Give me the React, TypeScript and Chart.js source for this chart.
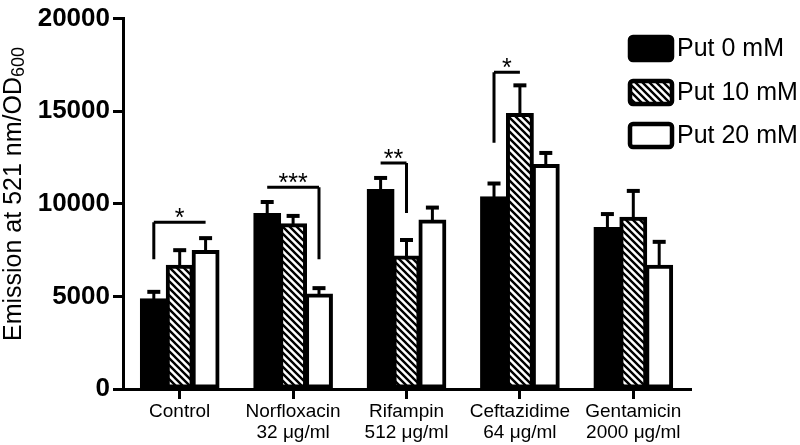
import React, { useEffect, useRef } from "react";
import { Chart, registerables } from "chart.js";

Chart.register(...registerables);

const categories: string[][] = [
  ["Control"],
  ["Norfloxacin", "32 μg/ml"],
  ["Rifampin", "512 μg/ml"],
  ["Ceftazidime", "64 μg/ml"],
  ["Gentamicin", "2000 μg/ml"],
];
const seriesNames = ["Put 0 mM", "Put 10 mM", "Put 20 mM"];
const put0 = [4850, 9450, 10750, 10350, 8700];
const put10 = [6650, 8900, 7150, 14850, 9250];
const put20 = [7450, 5100, 9100, 12100, 6650];
const err0 = [450, 700, 700, 800, 800];
const err10 = [900, 500, 950, 1600, 1500];
const err20 = [750, 400, 750, 700, 1350];
const yTicks = [0, 5000, 10000, 15000, 20000];

// significance brackets: category, from series, to series, bracket level, leg series, leg end, label
const brCat = [0, 1, 2, 3];
const brFrom = [0, 0, 0, 0];
const brTo = [2, 2, 1, 1];
const brLevel = [9000, 10900, 12200, 17100];
const brLegSeries = [0, 2, 1, 0];
const brLegEnd = [7000, 7000, 9500, 13300];
const brLabel = ["*", "***", "**", "*"];

const FONT = "'Liberation Sans', Arial, Helvetica, sans-serif";

function makeHatch(): CanvasPattern | string {
  const s = 7;
  const c = document.createElement("canvas");
  c.width = s;
  c.height = s;
  const g = c.getContext("2d");
  if (!g) return "#fff";
  g.fillStyle = "#fff";
  g.fillRect(0, 0, s, s);
  g.strokeStyle = "#000";
  g.lineWidth = 2.4;
  g.beginPath();
  for (const k of [-s, 0, s]) {
    g.moveTo(k - 1, -1);
    g.lineTo(k + s + 1, s + 1);
  }
  g.stroke();
  const p = g.createPattern(c, "repeat");
  return p || "#fff";
}

export default function App() {
  const ref = useRef<HTMLCanvasElement | null>(null);

  useEffect(() => {
    document.body.style.margin = "0";
    const canvas = ref.current;
    if (!canvas) return;
    const hatch = makeHatch();
    const errs = [err0, err10, err20];
    const fills: any[] = ["#000", hatch, "#fff"];

    const overlay = {
      id: "overlay",
      afterDatasetsDraw(chart: any) {
        const ctx = chart.ctx;
        const y = chart.scales.y;
        ctx.save();
        // error bars
        ctx.strokeStyle = "#000";
        ctx.fillStyle = "#000";
        for (let d = 0; d < 3; d++) {
          const meta = chart.getDatasetMeta(d);
          meta.data.forEach((bar: any, i: number) => {
            const v = chart.data.datasets[d].data[i] as number;
            const top = y.getPixelForValue(v + errs[d][i]);
            const base = y.getPixelForValue(v);
            ctx.lineWidth = 3;
            ctx.beginPath();
            ctx.moveTo(bar.x, base);
            ctx.lineTo(bar.x, top);
            ctx.stroke();
            ctx.lineWidth = 4;
            ctx.beginPath();
            ctx.moveTo(bar.x - 6.5, top + 1);
            ctx.lineTo(bar.x + 6.5, top + 1);
            ctx.stroke();
          });
        }
        // brackets
        ctx.lineWidth = 3;
        for (let b = 0; b < brCat.length; b++) {
          const x1 = chart.getDatasetMeta(brFrom[b]).data[brCat[b]].x;
          const x2 = chart.getDatasetMeta(brTo[b]).data[brCat[b]].x;
          const xl = chart.getDatasetMeta(brLegSeries[b]).data[brCat[b]].x;
          const yl = y.getPixelForValue(brLevel[b]);
          const ye = y.getPixelForValue(brLegEnd[b]);
          ctx.beginPath();
          ctx.moveTo(x1, yl);
          ctx.lineTo(x2, yl);
          ctx.moveTo(xl, yl);
          ctx.lineTo(xl, ye);
          ctx.stroke();
          ctx.font = `25px ${FONT}`;
          ctx.textAlign = "center";
          ctx.textBaseline = "alphabetic";
          ctx.fillText(brLabel[b], (x1 + x2) / 2, yl + 4);
        }
        // legend
        const lx = 628;
        const ly = [35, 79, 122];
        for (let k = 0; k < 3; k++) {
          const bx = lx, by = ly[k], bw = 46, bh = 27;
          ctx.beginPath();
          ctx.roundRect(bx + 2, by + 2, bw - 4, bh - 4, 3);
          ctx.fillStyle = fills[k];
          ctx.fill();
          ctx.lineWidth = 4.5;
          ctx.strokeStyle = "#000";
          ctx.stroke();
          ctx.fillStyle = "#000";
          ctx.font = `25px ${FONT}`;
          ctx.textAlign = "left";
          ctx.textBaseline = "middle";
          ctx.fillText(seriesNames[k], 677, by + bh / 2 + 1);
        }
        // y axis title with subscript
        ctx.save();
        ctx.translate(21, 194);
        ctx.rotate(-Math.PI / 2);
        const main = "Emission at 521 nm/OD";
        const sub = "600";
        ctx.font = `25px ${FONT}`;
        const w1 = ctx.measureText(main).width;
        ctx.font = `18px ${FONT}`;
        const w2 = ctx.measureText(sub).width;
        const start = -(w1 + w2) / 2;
        ctx.textAlign = "left";
        ctx.textBaseline = "alphabetic";
        ctx.font = `25px ${FONT}`;
        ctx.fillText(main, start, 0);
        ctx.font = `18px ${FONT}`;
        ctx.fillText(sub, start + w1, 3);
        ctx.restore();
        ctx.restore();
      },
    };

    const chart = new Chart(canvas, {
      type: "bar",
      data: {
        labels: categories as any,
        datasets: [
          { label: seriesNames[0], data: put0, backgroundColor: "#000", borderColor: "#000", borderWidth: 4, borderSkipped: false, inflateAmount: 1 },
          { label: seriesNames[1], data: put10, backgroundColor: hatch as any, borderColor: "#000", borderWidth: 4, borderSkipped: false, inflateAmount: 1 },
          { label: seriesNames[2], data: put20, backgroundColor: "#fff", borderColor: "#000", borderWidth: 4, borderSkipped: false, inflateAmount: 1 },
        ],
      },
      options: {
        responsive: false,
        animation: false,
        devicePixelRatio: 1,
        layout: { padding: { left: 0, top: 12, right: 110, bottom: 0 } },
        datasets: { bar: { categoryPercentage: 0.685, barPercentage: 1 } },
        plugins: { legend: { display: false }, tooltip: { enabled: false } },
        scales: {
          x: {
            grid: { display: true, drawOnChartArea: false, offset: false, tickLength: 10, lineWidth: 3, color: "#000" },
            border: { display: true, width: 3, color: "#000" },
            ticks: { color: "#000", font: { family: FONT, size: 19, lineHeight: 1.08 }, padding: 3, maxRotation: 0, autoSkip: false },
            afterFit: (s: any) => { s.height = 56; },
          },
          y: {
            min: 0,
            max: 20000,
            afterBuildTicks: (s: any) => { s.ticks = yTicks.map((v) => ({ value: v })); },
            grid: { display: true, drawOnChartArea: false, tickLength: 10, lineWidth: 3, color: "#000" },
            border: { display: true, width: 3, color: "#000" },
            ticks: {
              color: "#000",
              font: { family: FONT, size: 26, weight: "bold" },
              padding: 3,
              callback: (v: any) => String(v),
            },
            afterFit: (s: any) => { s.width = 123; },
          },
        },
      },
      plugins: [overlay],
    } as any);

    return () => chart.destroy();
  }, []);

  return (
    <div style={{ width: 800, height: 445 }}>
      <canvas ref={ref} width={800} height={445} style={{ display: "block" }} />
    </div>
  );
}
